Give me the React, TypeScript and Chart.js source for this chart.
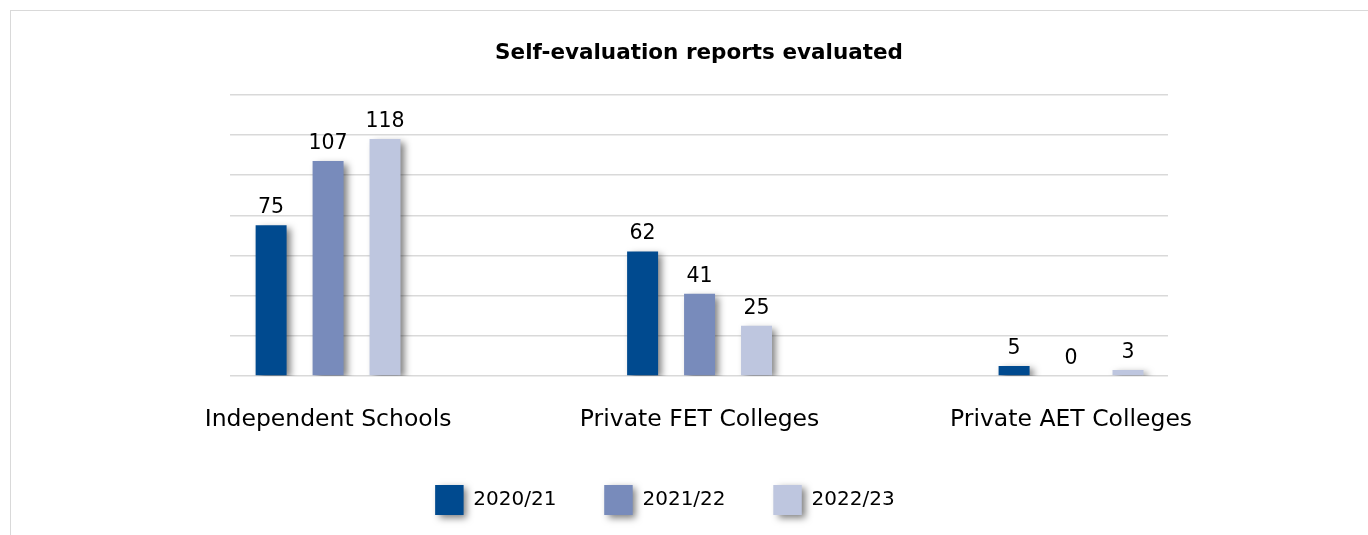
import React, { useEffect, useRef } from "react";
import { Chart, registerables } from "chart.js";

Chart.register(...registerables);

const categories = ["Independent Schools", "Private FET Colleges", "Private AET Colleges"];
const seriesLabels = ["2020/21", "2021/22", "2022/23"];
const values2020 = [75, 62, 5];
const values2021 = [107, 41, 0];
const values2022 = [118, 25, 3];
const seriesValues = [values2020, values2021, values2022];
const seriesColors = ["#004A8F", "#788BBB", "#BEC6DF"];
const yMin = 0;
const yMax = 140;
const yStep = 20;
const titleText = "Self-evaluation reports evaluated";

const FONT = "'DejaVu Sans', sans-serif";
const W = 1368;
const H = 535;
const PAD_RIGHT = 38;
const LEGEND_BOX_W = 28;
const LEGEND_BOX_H = 30;

const shadowPlugin = {
  id: "barShadow",
  beforeDraw(chart: any) {
    const lg = chart.legend;
    if (!lg || !lg.legendHitBoxes) return;
    const ctx = chart.ctx;
    ctx.save();
    ctx.shadowColor = "rgba(0,0,0,0.5)";
    ctx.shadowBlur = 7;
    ctx.shadowOffsetX = 4;
    ctx.shadowOffsetY = 3;
    lg.legendHitBoxes.forEach((hb: any, i: number) => {
      ctx.fillStyle = seriesColors[i];
      ctx.fillRect(hb.left, hb.top, LEGEND_BOX_W, LEGEND_BOX_H);
    });
    ctx.restore();
  },
  beforeDatasetsDraw(chart: any) {
    const c = chart.ctx;
    c.save();
    c.shadowColor = "rgba(0,0,0,0.5)";
    c.shadowBlur = 7;
    c.shadowOffsetX = 4;
    c.shadowOffsetY = 3;
  },
  afterDatasetsDraw(chart: any) {
    chart.ctx.restore();
  },
};

const dataLabelPlugin = {
  id: "dataLabels",
  afterDatasetsDraw(chart: any) {
    const ctx = chart.ctx;
    ctx.save();
    ctx.font = `20.5px ${FONT}`;
    ctx.fillStyle = "#000";
    ctx.textAlign = "center";
    ctx.textBaseline = "alphabetic";
    chart.data.datasets.forEach((ds: any, di: number) => {
      const meta = chart.getDatasetMeta(di);
      meta.data.forEach((el: any, i: number) => {
        const v = ds.data[i].y;
        ctx.fillText(String(v), el.x, el.y - 12);
      });
    });
    ctx.restore();
  },
};

export default function App() {
  const ref = useRef<HTMLCanvasElement>(null);

  useEffect(() => {
    if (!ref.current) return;
    const chart = new Chart(ref.current, {
      type: "bar",
      data: {
        datasets: seriesLabels.map((label, s) => ({
          label,
          data: seriesValues[s].map((v, i) => ({ x: i, y: v })),
          backgroundColor: seriesColors[s],
          borderWidth: 0,
        })),
      },
      options: {
        responsive: false,
        animation: false,
        layout: { padding: { left: 0, right: PAD_RIGHT, top: 0, bottom: 10 } },
        datasets: { bar: { categoryPercentage: 0.46, barPercentage: 0.544 } },
        plugins: {
          title: {
            display: true,
            text: titleText,
            fullSize: false,
            color: "#000",
            font: { family: FONT, size: 21.5, weight: "bold", lineHeight: 1.2 },
            padding: { top: 41, bottom: 28 },
          },
          legend: {
            position: "bottom",
            fullSize: true,
            labels: {
              boxWidth: LEGEND_BOX_W,
              boxHeight: LEGEND_BOX_H,
              padding: 48,
              color: "#000",
              font: { family: FONT, size: 20 },
            },
          },
          tooltip: { enabled: false },
        },
        scales: {
          x: {
            type: "linear",
            min: -0.264,
            max: 2.261,
            offset: false,
            grid: { display: false, drawTicks: false, offset: false },
            border: { display: false },
            ticks: {
              stepSize: 1,
              includeBounds: false,
              autoSkip: false,
              maxRotation: 0,
              padding: 30,
              color: "#000",
              font: { family: FONT, size: 23.5 },
              callback: (v: any) => {
                const n = Number(v);
                return Number.isInteger(n) && categories[n] !== undefined ? categories[n] : "";
              },
            },
            afterFit: (s: any) => {
              s.height = 61;
            },
          },
          y: {
            min: yMin,
            max: yMax,
            ticks: { display: false, stepSize: yStep },
            grid: { color: "#d9d9d9", lineWidth: 1.5, drawTicks: false },
            border: { display: false },
            afterFit: (s: any) => {
              s.width = 230;
            },
          },
          yR: {
            type: "linear",
            position: "right",
            display: true,
            min: 0,
            max: 1,
            grid: { display: false, drawTicks: false },
            ticks: { display: false },
            border: { display: false },
            afterFit: (s: any) => {
              s.width = W - PAD_RIGHT - 1168;
            },
          },
        },
      } as any,
      plugins: [shadowPlugin, dataLabelPlugin],
    });
    return () => chart.destroy();
  }, []);

  return (
    <div
      style={{
        position: "fixed",
        left: 0,
        top: 0,
        width: W,
        height: H,
        overflow: "hidden",
        background: "#fff",
      }}
    >
      <div
        style={{
          position: "absolute",
          left: 10,
          top: 10,
          width: W + 50,
          height: H + 50,
          borderLeft: "1.5px solid #d9d9d9",
          borderTop: "1.5px solid #d9d9d9",
        }}
      />
      <canvas
        ref={ref}
        width={W}
        height={H}
        style={{ position: "absolute", left: 0, top: 0, width: W, height: H }}
      />
    </div>
  );
}
